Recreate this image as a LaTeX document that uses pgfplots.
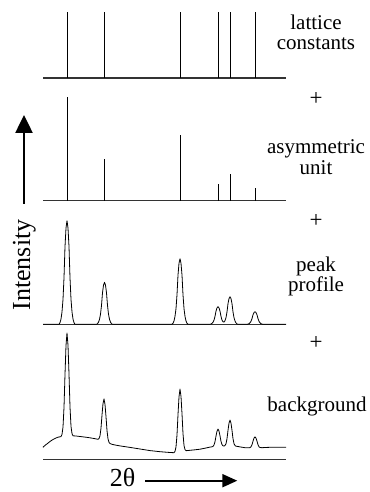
\documentclass[border=0pt]{standalone}
\usepackage{fontspec}
\setmainfont{Liberation Serif}
\usepackage{pgfplots}
\pgfplotsset{compat=1.18}
\usetikzlibrary{arrows.meta}
\pgfplotsset{panel/.style={hide axis, scale only axis, width=243bp, height=#1 bp,
  xmin=43, xmax=286, ymin=0, ymax=#1, clip=false, anchor=south west}}
\tikzset{lbl/.style={anchor=base, inner sep=0pt, font=\fontsize{21bp}{20bp}\selectfont},
  plus/.style={inner sep=0pt, font=\fontsize{23bp}{23bp}\selectfont}}
\begin{document}
\begin{tikzpicture}
\path[use as bounding box] (0,0) rectangle (370bp,492bp);
% panel 1: lattice constants
\begin{axis}[panel=70, at={(43bp,414bp)}]
\addplot[black!80, line width=1.2bp] coordinates {(43,0) (286,0)};
\addplot[ycomb, black, line width=0.8bp, no marks] coordinates {(67,66.3) (104.7,66.3) (180,66.3) (218,66.3) (230,66.3) (255.3,66.3)};
\end{axis}
% panel 2: asymmetric unit
\begin{axis}[panel=110, at={(43bp,291.3bp)}]
\addplot[black!80, line width=1.2bp] coordinates {(43,0) (286,0)};
\addplot[ycomb, black, line width=0.8bp, no marks] coordinates {(67,104) (104.7,41.7) (180,65.7) (218,16.7) (230,26.7) (255.3,13)};
\end{axis}
% panel 3: peak profile
\begin{axis}[panel=110, at={(43bp,167.7bp)}]
\addplot[black!80, line width=1.2bp] coordinates {(43,0) (286,0)};
\addplot[black, line width=0.8bp, line join=round, no marks] coordinates {
(43,0) (59,0) (60,1.6) (61,5.2) (62,12.4) (63,24.9) (64,46.6) (65,77.7) (66,96.3) (67,103.6) (68,96.3) (69,77.7) (70,46.6) (71,24.9) (72,12.4) (73,5.2) (74,1.6) (75,0)
(96.5,0) (97.5,0.6) (98.5,2.1) (99.5,5.0) (100.5,10.1) (101.5,18.9) (102.5,31.5) (103.5,39.1) (104.5,42) (105.5,39.1) (106.5,31.5) (107.5,18.9) (108.5,10.1) (109.5,5.0) (110.5,2.1) (111.5,0.6) (112.5,0)
(172,0) (173,1.0) (174,3.3) (175,7.9) (176,15.7) (177,29.5) (178,49.2) (179,61.0) (180,65.6) (181,61.0) (182,49.2) (183,29.5) (184,15.7) (185,7.9) (186,3.3) (187,1.0) (188,0)
(210,0) (211,0.3) (212,0.9) (213,2.1) (214,4.2) (215,7.9) (216,13.2) (217,16.4) (218,17.6) (219,16.4) (220,13.2) (221,7.9) (222,4.2) (223,2.5) (224,2.3) (225,3.6) (226,6.6) (227,12.4) (228,20.7) (229,25.7) (230,27.6) (231,25.7) (232,20.7) (233,12.4) (234,6.6) (235,3.3) (236,1.4) (237,0.4) (238,0)
(247,0) (248,0.2) (249,0.6) (250,1.5) (251,3.0) (252,5.7) (253,9.5) (254,11.7) (255,12.6) (256,11.7) (257,9.5) (258,5.7) (259,3.0) (260,1.5) (261,0.6) (262,0.2) (263,0) (286,0)};
\end{axis}
% panel 4: background
\begin{axis}[panel=135, at={(43bp,32.7bp)}]
\addplot[black!80, line width=1.2bp] coordinates {(43,0) (286,0)};
\addplot[black, line width=0.8bp, line join=round, no marks] coordinates {
(43,12) (44,13) (45,13.9) (46,14.7) (47,15.4) (49,17) (51,18.5) (53,19.8) (56,21.3) (58,22.1) (61,22.7)
(62,24.9) (63,32.2) (64,51.8) (65,84.9) (66,113.8) (67,126.3) (68,114.0) (69,85.3) (70,52.4) (71,32.9) (72,25.7) (73,23.5)
(76,23.3) (80,22.8) (85,22.2) (90,21.5) (95,20.6) (98,20.0)
(99,20.7) (100,23.5) (101,31.2) (102,44.3) (103,55.7) (104,60.4) (105,54.9) (106,42.6) (107,28.8) (108,20.4) (109,17.0) (110,15.8)
(112,15.0) (115,14.3) (120,13.4) (130,11.9) (140,10.3) (150,8.7) (160,7.6) (170,6.8) (174,6.6)
(175,7.9) (176,12.4) (177,24.4) (178,44.7) (179,62.4) (180,70.2) (181,62.9) (182,45.6) (183,25.6) (184,13.9) (185,9.7) (186,8.6)
(190,9.0) (195,9.5) (200,10.1) (205,11.1) (210,12.2) (212,12.5)
(213,12.9) (214,14.3) (215,17.6) (216,23.2) (217,28.1) (218,30.2) (219,28.2) (220,23.4) (221,17.9) (222,14.7) (223,13.5) (224,13.2)
(225,13.8) (226,15.6) (227,20.6) (228,28.9) (229,36.2) (230,39.3) (231,36.2) (232,28.9) (233,20.6) (234,15.6) (235,13.8) (236,13.1)
(238,12.8) (240,12.4) (245,11.6) (249,11.5)
(250,11.7) (251,12.5) (252,14.6) (253,18.1) (254,21.2) (255,22.5) (256,21.2) (257,18.1) (258,14.6) (259,12.5) (260,11.8)
(262,11.6) (265,11.8) (270,12.0) (280,12.0) (286,12.0)};
\end{axis}
% labels
\node[lbl] at (316bp,462bp) {lattice};
\node[lbl] at (316bp,442bp) {constants};
\node[lbl] at (316bp,338.2bp) {asymmetric};
\node[lbl] at (316bp,317.8bp) {unit};
\node[lbl] at (316bp,220bp) {peak};
\node[lbl] at (316bp,200bp) {profile};
\node[lbl] at (317bp,80.3bp) {background};
\node[plus] at (316bp,393.3bp) {+};
\node[plus] at (316bp,271.3bp) {+};
\node[plus] at (316bp,148.7bp) {+};
\node[anchor=base, inner sep=0pt, rotate=90, font=\fontsize{26bp}{28bp}\selectfont] at (30bp,227bp) {Intensity};
\node[anchor=base, inner sep=0pt, font=\fontsize{26bp}{28bp}\selectfont] at (122.5bp,5.5bp) {2θ};
\draw[line width=2.5bp, -{Triangle[length=18bp,width=17bp]}] (24bp,288bp) -- (24bp,377bp);
\draw[line width=2bp, -{Triangle[length=15bp,width=13bp]}] (145bp,11.3bp) -- (237.3bp,11.3bp);
\end{tikzpicture}
\end{document}
